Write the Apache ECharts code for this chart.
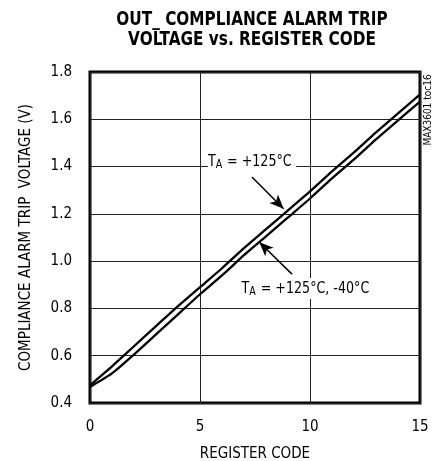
<!DOCTYPE html>
<html>
<head>
<meta charset="utf-8">
<script src="https://cdn.jsdelivr.net/npm/echarts@6/dist/echarts.min.js"></script>
<style>
  html, body { margin: 0; padding: 0; background: #fff; }
  #chart { width: 433px; height: 461px; }
</style>
</head>
<body>
<div id="chart"></div>
<script>
const FONT = "'Liberation Sans Narrow', 'DejaVu Sans Condensed', sans-serif";

// register codes on the x axis
const codes = [0, 1, 2, 3, 4, 5, 6, 7, 8, 9, 10, 11, 12, 13, 14, 15];
// upper trace (TA = +125°C)
const tripHot = [0.475, 0.555, 0.64, 0.725, 0.81, 0.89, 0.97, 1.055, 1.135, 1.215, 1.295, 1.38, 1.46, 1.545, 1.625, 1.705];
// lower trace (TA = +125°C, -40°C)
const tripBoth = [0.468, 0.525, 0.605, 0.69, 0.775, 0.86, 0.94, 1.025, 1.105, 1.185, 1.265, 1.35, 1.43, 1.515, 1.595, 1.675];

const xTicks = [0, 5, 10, 15];
const yTicks = [0.4, 0.6, 0.8, 1.0, 1.2, 1.4, 1.6, 1.8];

// annotation anchors, in data units
const noteHot = { text: '{n|T}{s|A}{n| = +125°C}', at: [5.36, 1.422] };
const noteBoth = { text: '{n|T}{s|A}{n| = +125°C, -40°C}', at: [6.89, 0.884] };
const arrowHot = [[7.36, 1.356], [8.8, 1.222]];
const arrowBoth = [[9.18, 0.945], [7.7, 1.08]];

const chart = echarts.init(document.getElementById('chart'));

const richText = {
  n: { fontFamily: FONT, fontSize: 16, color: '#000' },
  s: { fontFamily: FONT, fontSize: 12, color: '#000', padding: [7, 1, 0, 0] }
};

const option = {
  animation: false,
  grid: {
    left: 90, right: 13, top: 72, bottom: 58,
    containLabel: false,
    outerBoundsMode: 'none',
    show: true,
    borderColor: '#000',
    borderWidth: 3
  },
  xAxis: {
    type: 'value',
    min: 0, max: 15, interval: 5,
    name: 'REGISTER CODE',
    nameLocation: 'middle',
    nameGap: 44,
    nameTextStyle: { fontFamily: FONT, fontSize: 15, color: '#000' },
    axisLine: { show: false },
    axisTick: { show: false },
    axisLabel: {
      fontFamily: FONT, fontSize: 15, color: '#000', margin: 17,
      formatter: v => xTicks.includes(v) ? String(v) : ''
    },
    splitLine: { show: true, lineStyle: { color: '#222', width: 1 } }
  },
  yAxis: {
    type: 'value',
    min: 0.4, max: 1.8, interval: 0.2,
    name: 'COMPLIANCE ALARM TRIP  VOLTAGE (V)',
    nameLocation: 'middle',
    nameGap: 56,
    nameTextStyle: { fontFamily: FONT, fontSize: 15, color: '#000' },
    axisLine: { show: false },
    axisTick: { show: false },
    axisLabel: {
      fontFamily: FONT, fontSize: 15, color: '#000', margin: 18,
      formatter: v => {
        const t = yTicks.find(k => Math.abs(k - v) < 1e-6);
        return t === undefined ? '' : t.toFixed(1);
      }
    },
    splitLine: { show: true, lineStyle: { color: '#222', width: 1 } }
  },
  series: [
    {
      name: 'TA = +125°C',
      type: 'line',
      data: codes.map((c, i) => [c, tripHot[i]]),
      smooth: 0.2,
      showSymbol: false,
      lineStyle: { color: '#000', width: 2.3 },
      z: 3
    },
    {
      name: 'TA = +125°C, -40°C',
      type: 'line',
      data: codes.map((c, i) => [c, tripBoth[i]]),
      smooth: 0.2,
      showSymbol: false,
      lineStyle: { color: '#000', width: 2.3 },
      z: 3,
      markLine: {
        silent: true,
        symbol: ['none', 'arrow'],
        symbolSize: [9, 14],
        label: { show: false },
        lineStyle: { color: '#000', width: 1.5, type: 'solid' },
        data: [
          [{ coord: arrowHot[0] }, { coord: arrowHot[1] }],
          [{ coord: arrowBoth[0] }, { coord: arrowBoth[1] }]
        ]
      }
    }
  ]
};

chart.setOption(option);

function note(n) {
  const p = chart.convertToPixel({ gridIndex: 0 }, n.at);
  return {
    type: 'text',
    x: p[0], y: p[1],
    scaleX: 0.88,
    z: 10,
    style: {
      text: n.text,
      rich: richText,
      verticalAlign: 'middle',
      align: 'left',
      backgroundColor: '#fff',
      padding: [1, 5, 1, 0]
    }
  };
}

chart.setOption({
  graphic: [
    {
      type: 'text',
      x: 252, y: 30,
      scaleX: 0.85,
      style: {
        text: 'OUT_ COMPLIANCE ALARM TRIP\nVOLTAGE vs. REGISTER CODE',
        fontFamily: FONT,
        fontWeight: 'bold',
        fontSize: 20,
        lineHeight: 20.5,
        fill: '#000',
        align: 'center',
        verticalAlign: 'middle'
      }
    },
    note(noteHot),
    note(noteBoth),
    {
      type: 'text',
      x: 428, y: 110,
      rotation: Math.PI / 2,
      style: {
        text: 'MAX3601 toc16',
        fontFamily: FONT,
        fontSize: 10,
        fill: '#000',
        align: 'center',
        verticalAlign: 'middle'
      }
    }
  ]
});
</script>
</body>
</html>
